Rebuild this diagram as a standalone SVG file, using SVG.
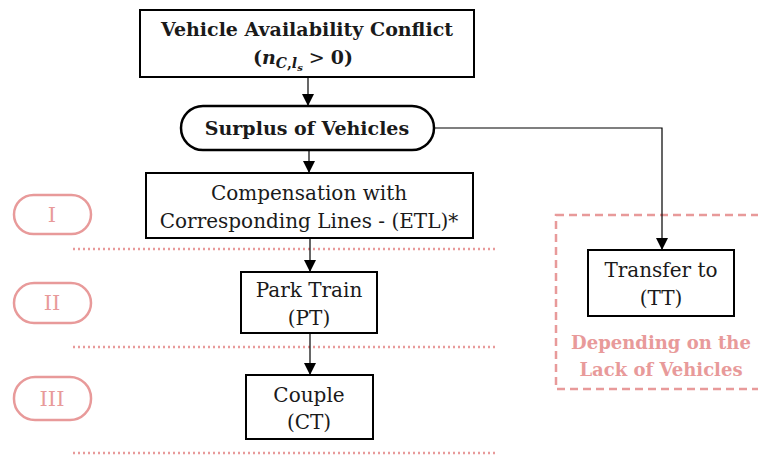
<svg xmlns="http://www.w3.org/2000/svg" width="758" height="455" viewBox="0 0 758 455">
<defs>
<style>
.box{fill:#fff;stroke:#000;stroke-width:2}
.t{font-family:"DejaVu Serif","Liberation Serif",serif;font-size:20px;fill:#1a1a1a;text-anchor:middle}
.b{font-weight:bold;font-size:19px}
.pill{fill:none;stroke:#e89a9a;stroke-width:2.5}
.pt{font-family:"DejaVu Serif","Liberation Serif",serif;font-size:21px;fill:#e89a9a;text-anchor:middle}
.dt{font-family:"DejaVu Serif","Liberation Serif",serif;font-size:18px;font-weight:bold;fill:#e89a9a;text-anchor:middle}
.dot{stroke:#e89a9a;stroke-width:2.5;stroke-dasharray:2 3;fill:none}
.con{stroke:#000;stroke-width:1.2;fill:none}
</style>
<marker id="ah" viewBox="0 0 10 10" refX="10" refY="5" markerWidth="12" markerHeight="12" markerUnits="userSpaceOnUse" orient="auto">
<path d="M0,0 L10,5 L0,10 z" fill="#000"/>
</marker>
</defs>
<rect width="758" height="455" fill="#fff"/>
<g id="lanes">
<line class="dot" x1="73" y1="249" x2="495" y2="249"/>
<line class="dot" x1="73" y1="347" x2="495" y2="347"/>
<line class="dot" x1="73" y1="453" x2="495" y2="453"/>
</g>
<g id="pill-I"><rect class="pill" x="14" y="195" width="77" height="39" rx="19.5"/><text class="pt" x="52" y="222">I</text></g>
<g id="pill-II"><rect class="pill" x="14" y="283" width="77" height="40" rx="20"/><text class="pt" x="52" y="310">II</text></g>
<g id="pill-III"><rect class="pill" x="14" y="377" width="77" height="43" rx="21"/><text class="pt" x="52" y="406">III</text></g>
<g id="dep-region">
<rect x="556" y="215" width="210" height="174" fill="none" stroke="#e89a9a" stroke-width="2.5" stroke-dasharray="8 5"/>
<text class="dt" x="661" y="349">Depending on the</text>
<text class="dt" x="661" y="376">Lack of Vehicles</text>
</g>
<g id="connectors">
<line class="con" x1="308" y1="77" x2="308" y2="106" marker-end="url(#ah)"/>
<line class="con" x1="309" y1="150" x2="309" y2="173" marker-end="url(#ah)"/>
<line class="con" x1="310" y1="238" x2="310" y2="272" marker-end="url(#ah)"/>
<line class="con" x1="310" y1="333" x2="310" y2="375" marker-end="url(#ah)"/>
<polyline class="con" points="434,128 662,128 662,250" marker-end="url(#ah)"/>
</g>
<g id="conflict">
<rect class="box" x="140" y="10" width="334" height="67"/>
<text class="t b" x="307" y="36">Vehicle Availability Conflict</text>
<text class="t b" x="303" y="64" font-size="21">(<tspan font-style="italic">n</tspan><tspan font-style="italic" font-size="14" dy="4">C</tspan><tspan font-size="14">,</tspan><tspan font-style="italic" font-size="14">l</tspan><tspan font-style="italic" font-size="10" dy="3">s</tspan><tspan dy="-7" font-weight="normal"> &gt; </tspan>0)</text>
</g>
<g id="surplus">
<rect x="181" y="106" width="253" height="44" rx="22" fill="#fff" stroke="#000" stroke-width="2.5"/>
<text class="t b" x="307" y="135">Surplus of Vehicles</text>
</g>
<g id="compensation">
<rect class="box" x="146" y="173" width="327" height="65"/>
<text class="t" x="309" y="200">Compensation with</text>
<text class="t" x="309" y="228">Corresponding Lines -  (ETL)*</text>
</g>
<g id="park">
<rect class="box" x="241" y="272" width="136" height="61"/>
<text class="t" x="309" y="297">Park Train</text>
<text class="t" x="309" y="325">(PT)</text>
</g>
<g id="couple">
<rect class="box" x="246" y="375" width="127" height="64"/>
<text class="t" x="309" y="402">Couple</text>
<text class="t" x="309" y="429">(CT)</text>
</g>
<g id="transfer">
<rect class="box" x="588" y="250" width="146" height="66"/>
<text class="t" x="661" y="277">Transfer to</text>
<text class="t" x="661" y="305">(TT)</text>
</g>
</svg>
